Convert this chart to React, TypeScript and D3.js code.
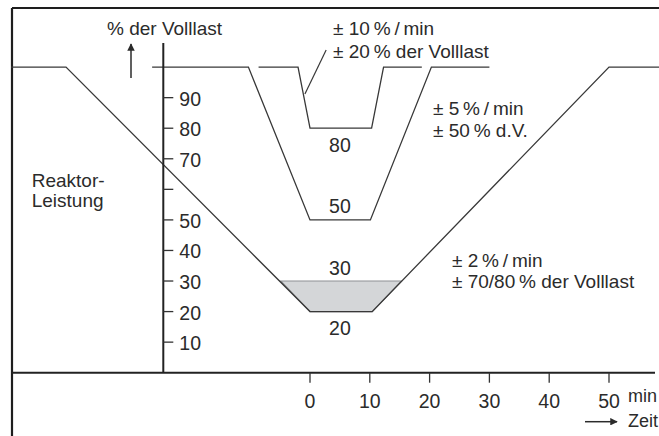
import React from "react";
import * as d3 from "d3";

// Reaktor-Lastwechsel: Zeit (min) gegen Leistung (% der Volllast)
const xTickValues = [0, 10, 20, 30, 40, 50];
const yTickValues = [10, 20, 30, 40, 50, 60, 70, 80, 90];
const yTickLabels = ["10", "20", "30", "40", "50", "", "70", "80", "90"];

// ± 2 %/min, bis 70/80 % der Volllast
const outerTime = [-50, -40.8, 0, 10.4, 50, 58.5];
const outerLoad = [100, 100, 20, 20, 100, 100];

// ± 5 %/min, 50 % d.V.
const middleTime = [-26.4, -10.3, 0, 10.1, 20.3, 30];
const middleLoad = [100, 100, 50, 50, 100, 100];

// ± 10 %/min, 20 % der Volllast
const innerTime = [-8.6, -2, 0, 10.3, 12.3, 18.7];
const innerLoad = [100, 100, 80, 80, 100, 100];

// grey band between 30 and 20 %
const bandTime = [-4.9, 15.3, 10.4, 0];
const bandLoad = [30, 30, 20, 20];

// level labels
const levelValues = [80, 50, 30, 20];
const levelAbove = [false, true, true, false];

// leader line to the inner curve
const leaderTime = [2.7, -0.85];
const leaderLoad = [105.6, 91.2];

const W = 659;
const H = 436;
const FONT = "'Liberation Sans', Arial, Helvetica, sans-serif";
const INK = "#2b2b2b";

const App = () => {
  const x = d3.scaleLinear().domain([0, 50]).range([310, 609]);
  const y = d3.scaleLinear().domain([0, 100]).range([372.7, 67.1]);

  const line = d3
    .line<[number, number]>()
    .x((d) => x(d[0]))
    .y((d) => y(d[1]));

  const zip = (t: number[], v: number[]) =>
    t.map((d, i) => [d, v[i]] as [number, number]);

  const band = zip(bandTime, bandLoad);
  const curves = [
    zip(outerTime, outerLoad),
    zip(middleTime, middleLoad),
    zip(innerTime, innerLoad),
  ];

  const axisX = x(0) - 146.7; // y axis sits left of t = 0
  const x0 = y(0);

  return (
    <svg
      width={W}
      height={H}
      style={{ position: "absolute", left: 0, top: 0, background: "#fff" }}
      fontFamily={FONT}
    >
      <defs>
        <marker
          id="arr"
          viewBox="0 0 10 10"
          refX="9"
          refY="5"
          markerWidth="5"
          markerHeight="5"
          orient="auto"
        >
          <path d="M0,0 L10,5 L0,10 z" fill={INK} />
        </marker>
      </defs>

      {/* frame */}
      <line x1={12} y1={8} x2={W} y2={8} stroke="#1e1e1e" strokeWidth={2.2} />
      <line x1={12} y1={8} x2={12} y2={H} stroke="#1e1e1e" strokeWidth={2.2} />

      {/* shaded band */}
      <path
        d={line(band) + "Z"}
        fill="#d4d6d8"
        stroke="#8e9093"
        strokeWidth={1.2}
      />

      {/* ramps */}
      {curves.map((c, i) => (
        <path
          key={i}
          d={line(c) || ""}
          fill="none"
          stroke="#383838"
          strokeWidth={1.3}
        />
      ))}

      {/* leader */}
      <path
        d={line(zip(leaderTime, leaderLoad)) || ""}
        fill="none"
        stroke="#383838"
        strokeWidth={1.2}
      />

      {/* y axis */}
      <line x1={axisX} y1={43} x2={axisX} y2={x0} stroke="#222" strokeWidth={2} />
      {yTickValues.map((v, i) => (
        <g key={v}>
          <line
            x1={axisX}
            x2={axisX + 10}
            y1={y(v)}
            y2={y(v)}
            stroke="#333"
            strokeWidth={1.3}
          />
          <text x={axisX + 16} y={y(v) + 8} fontSize={19.5} fill={INK}>
            {yTickLabels[i]}
          </text>
        </g>
      ))}

      {/* x axis */}
      <line x1={12} y1={x0} x2={655} y2={x0} stroke="#222" strokeWidth={2} />
      {xTickValues.map((t) => (
        <g key={t}>
          <line
            x1={x(t)}
            x2={x(t)}
            y1={x0}
            y2={x0 + 10}
            stroke="#333"
            strokeWidth={1.3}
          />
          <text
            x={x(t)}
            y={407.7}
            fontSize={19.5}
            textAnchor="middle"
            fill={INK}
          >
            {t}
          </text>
        </g>
      ))}

      {/* level labels */}
      {levelValues.map((v, i) => (
        <text
          key={v}
          x={x(5)}
          y={levelAbove[i] ? y(v) - 6.5 : y(v) + 23.5}
          fontSize={19.5}
          textAnchor="middle"
          fill={INK}
        >
          {v}
        </text>
      ))}

      {/* axis titles */}
      <text x={107} y={35} fontSize={19} fill={INK}>
        % der Volllast
      </text>
      <line
        x1={131}
        y1={78}
        x2={131}
        y2={44}
        stroke={INK}
        strokeWidth={1.5}
        markerEnd="url(#arr)"
      />
      <text x={31.7} y={187} fontSize={19} fill={INK}>
        Reaktor-
      </text>
      <text x={31.7} y={207} fontSize={19} fill={INK}>
        Leistung
      </text>
      <text x={628} y={401.7} fontSize={18} fill={INK}>
        min
      </text>
      <line
        x1={585}
        y1={421.7}
        x2={617}
        y2={421.7}
        stroke={INK}
        strokeWidth={1.5}
        markerEnd="url(#arr)"
      />
      <text x={628} y={426.5} fontSize={18} fill={INK}>
        Zeit
      </text>

      {/* rate annotations */}
      <text fontSize={19} fill={INK}>
        <tspan x={333} y={35}>± 10{"\u2009"}%{"\u2009"}/{"\u2009"}min</tspan>
        <tspan x={333} y={58}>± 20{"\u2009"}% der Volllast</tspan>
      </text>
      <text fontSize={19} fill={INK}>
        <tspan x={433} y={115}>± 5{"\u2009"}%{"\u2009"}/{"\u2009"}min</tspan>
        <tspan x={433} y={137}>± 50{"\u2009"}% d.V.</tspan>
      </text>
      <text fontSize={19} fill={INK}>
        <tspan x={452} y={266.7}>± 2{"\u2009"}%{"\u2009"}/{"\u2009"}min</tspan>
        <tspan x={452} y={288}>± 70/80{"\u2009"}% der Volllast</tspan>
      </text>
    </svg>
  );
};

export default App;
